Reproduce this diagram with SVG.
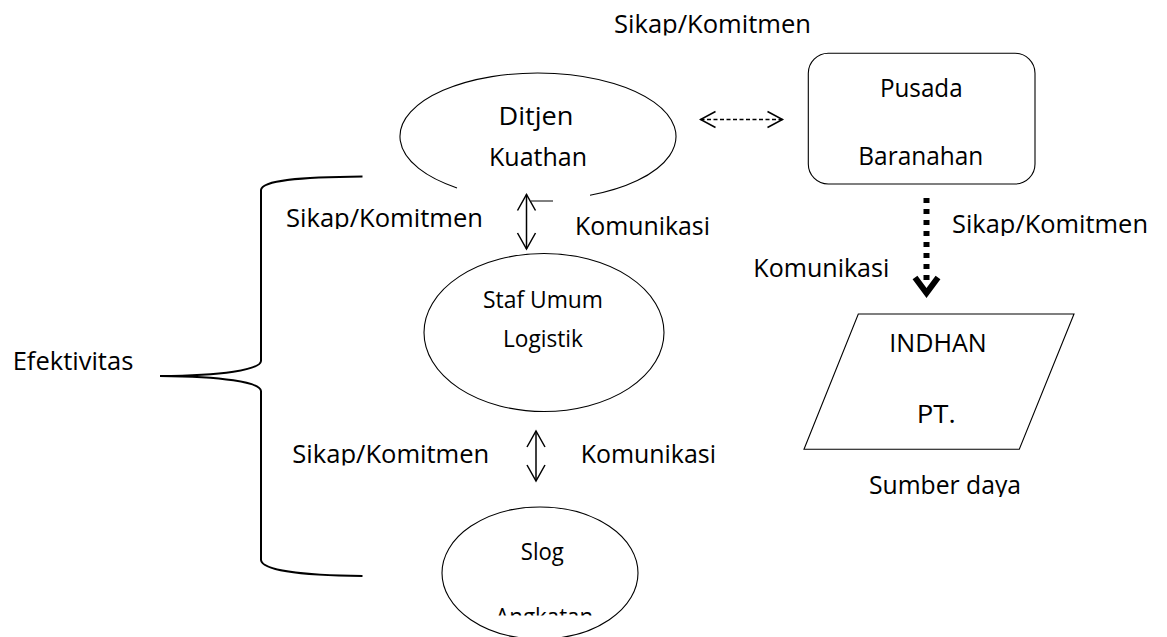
<svg xmlns="http://www.w3.org/2000/svg" width="1167" height="637" viewBox="0 0 1167 637">
<style>
  .t { font-family: "Open Sans", "Liberation Sans", sans-serif; font-size: 25px; fill: #000; }
  .s { font-size: 23px; }
  .shape { fill: none; stroke: #000; stroke-width: 1.1; }
  .arrow { fill: none; stroke: #000; stroke-width: 1.5; }
</style>
<defs>
  <marker id="vhead" markerUnits="userSpaceOnUse" viewBox="-20 -12 22 24" refX="0" refY="0" markerWidth="22" markerHeight="24" orient="auto-start-reverse">
    <path d="M-16,-9 L0,0 L-16,9" fill="none" stroke="#000" stroke-width="1.5"/>
  </marker>
  <marker id="dhead" markerUnits="userSpaceOnUse" viewBox="-17 -10 19 20" refX="0" refY="0" markerWidth="19" markerHeight="20" orient="auto-start-reverse">
    <path d="M-15,-8 L0,0 L-15,8" fill="none" stroke="#000" stroke-width="1.5"/>
  </marker>
  <clipPath id="c1"><rect x="600" y="0" width="220" height="35.5"/></clipPath>
  <clipPath id="c2"><rect x="270" y="195" width="230" height="34"/></clipPath>
  <clipPath id="c3"><rect x="280" y="430" width="230" height="35.5"/></clipPath>
  <clipPath id="c4"><rect x="940" y="200" width="220" height="36"/></clipPath>
  <clipPath id="c5"><rect x="850" y="460" width="190" height="37"/></clipPath>
  <clipPath id="c6"><rect x="480" y="590" width="130" height="25.5"/></clipPath>
</defs>

<g id="brace">
  <path d="M362.5,176.5 C300,177 262,180 261,190 V361 C260,370 222,375.5 160,376 C222,376.5 260,382 261,391 V560 C262,570 300,575.5 362.5,576" fill="none" stroke="#000" stroke-width="2"/>
</g>

<g id="efektivitas">
  <text class="t" x="12.7" y="370" textLength="120.6" lengthAdjust="spacingAndGlyphs">Efektivitas</text>
</g>

<g id="ditjen">
  <path class="shape" d="M457,187.9 A138,63.5 0 1 1 590,195.3"/>
  <text class="t" x="536" y="125" text-anchor="middle" textLength="75" lengthAdjust="spacingAndGlyphs">Ditjen</text>
  <text class="t" x="538" y="166" text-anchor="middle" textLength="98" lengthAdjust="spacingAndGlyphs">Kuathan</text>
  <line x1="531" y1="201" x2="553" y2="201" stroke="#000" stroke-width="1"/>
</g>

<g id="pusada">
  <rect class="shape" x="808.3" y="53.3" width="226.7" height="130.7" rx="20" ry="20"/>
  <text class="t" x="921.3" y="96.7" text-anchor="middle" textLength="82.7" lengthAdjust="spacingAndGlyphs">Pusada</text>
  <text class="t" x="920.8" y="165" text-anchor="middle" textLength="125" lengthAdjust="spacingAndGlyphs">Baranahan</text>
</g>

<g id="staf">
  <ellipse class="shape" cx="544" cy="332.5" rx="120" ry="79"/>
  <text class="t s" x="543" y="308.3" text-anchor="middle" textLength="120" lengthAdjust="spacingAndGlyphs">Staf Umum</text>
  <text class="t s" x="543" y="346.7" text-anchor="middle" textLength="80" lengthAdjust="spacingAndGlyphs">Logistik</text>
</g>

<g id="slog">
  <ellipse class="shape" cx="540" cy="573" rx="98" ry="66"/>
  <text class="t s" x="542.3" y="560" text-anchor="middle" textLength="43" lengthAdjust="spacingAndGlyphs">Slog</text>
  <g clip-path="url(#c6)">
    <text class="t s" x="544.2" y="625" text-anchor="middle" textLength="98" lengthAdjust="spacingAndGlyphs">Angkatan</text>
  </g>
</g>

<g id="indhan">
  <polygon class="shape" points="858.3,314 1074,314 1019.3,449.3 804,449.3"/>
  <text class="t" x="938" y="351.7" text-anchor="middle" textLength="97.4" lengthAdjust="spacingAndGlyphs">INDHAN</text>
  <text class="t" x="936.3" y="422.7" text-anchor="middle" textLength="39" lengthAdjust="spacingAndGlyphs">PT.</text>
</g>

<g id="labels">
  <g clip-path="url(#c1)"><text class="t" x="614" y="33.3" textLength="197" lengthAdjust="spacingAndGlyphs">Sikap/Komitmen</text></g>
  <g clip-path="url(#c2)"><text class="t" x="286" y="227.3" textLength="197" lengthAdjust="spacingAndGlyphs">Sikap/Komitmen</text></g>
  <text class="t" x="575" y="234.5" textLength="135" lengthAdjust="spacingAndGlyphs">Komunikasi</text>
  <g clip-path="url(#c3)"><text class="t" x="292.3" y="463.3" textLength="197" lengthAdjust="spacingAndGlyphs">Sikap/Komitmen</text></g>
  <text class="t" x="580.7" y="463.3" textLength="135.3" lengthAdjust="spacingAndGlyphs">Komunikasi</text>
  <g clip-path="url(#c4)"><text class="t" x="952" y="233.3" textLength="196" lengthAdjust="spacingAndGlyphs">Sikap/Komitmen</text></g>
  <text class="t" x="753.3" y="276.7" textLength="136" lengthAdjust="spacingAndGlyphs">Komunikasi</text>
  <g clip-path="url(#c5)"><text class="t" x="869" y="494" textLength="152" lengthAdjust="spacingAndGlyphs">Sumber daya</text></g>
</g>

<g id="connectors">
  <line class="arrow" x1="526.5" y1="194.5" x2="526.5" y2="249" marker-start="url(#vhead)" marker-end="url(#vhead)"/>
  <line class="arrow" x1="536" y1="431" x2="536" y2="481" marker-start="url(#vhead)" marker-end="url(#vhead)"/>
  <line class="arrow" x1="700.5" y1="119.5" x2="782.5" y2="119.5" stroke-dasharray="4 2.5" marker-start="url(#dhead)" marker-end="url(#dhead)"/>
  <line x1="926.5" y1="198" x2="926.5" y2="282" stroke="#000" stroke-width="6" stroke-dasharray="5 6"/>
  <polyline points="915,277.5 926.5,293 938,277.5" fill="none" stroke="#000" stroke-width="6" stroke-linejoin="miter" stroke-miterlimit="10"/>
</g>
</svg>
